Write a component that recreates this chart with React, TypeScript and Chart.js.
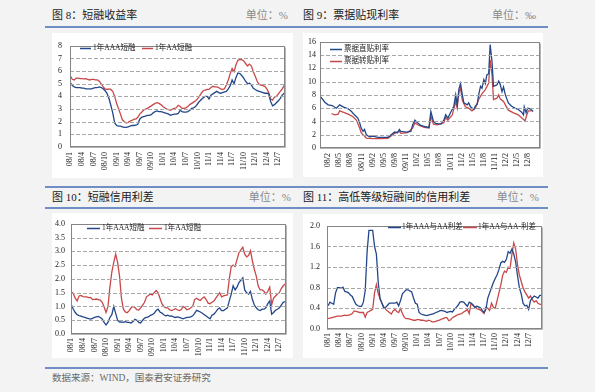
import React, { useEffect, useRef } from "react";
import { Chart, registerables } from "chart.js";

Chart.register(...registerables);

const FONT = '"Liberation Serif", "Noto Sans CJK SC", serif';

// ---------- shared tick labels (month index 0 = 2008/01) ----------
const TICK_MONTHS_A = [0, 3, 6, 9, 12, 15, 18, 21, 24, 27, 30, 33, 36, 39, 42, 45, 48, 51, 54];
const TICK_LABELS_A = ["08/1", "08/4", "08/7", "08/10", "09/1", "09/4", "09/7", "09/10", "10/1", "10/4", "10/7", "10/10", "11/1", "11/4", "11/7", "11/10", "12/1", "12/4", "12/7"];
const TICK_MONTHS_B = [1, 4, 7, 10, 13, 16, 19, 22, 25, 28, 31, 34, 37, 40, 43, 46, 49, 52, 55];
const TICK_LABELS_B = ["08/2", "08/5", "08/8", "08/11", "09/2", "09/5", "09/8", "09/11", "10/2", "10/5", "10/8", "10/11", "11/2", "11/5", "11/8", "11/11", "12/2", "12/5", "12/8"];

// half-month sampling, starting 2008/01
const HALF_MONTH = 0.5;

// ---------- 图8 短融收益率 ----------
const C8_AAA = [
  5.1, 4.85, 4.75, 4.7, 4.7, 4.7, 4.65, 4.65, 4.6, 4.6, 4.6, 4.6,
  4.65, 4.7, 4.7, 4.75, 4.7, 4.6, 4.45, 4.25, 3.85, 3.3, 2.7, 1.9,
  1.7, 1.65, 1.65, 1.6, 1.55, 1.55, 1.6, 1.65, 1.7, 1.7, 1.72, 1.8,
  2.2, 2.35, 2.4, 2.45, 2.5, 2.5, 2.55, 2.7, 2.8, 2.85, 2.8, 2.8,
  2.75, 2.7, 2.65, 2.6, 2.5, 2.55, 2.6, 2.6, 2.65, 2.9, 2.8, 2.75,
  2.75, 2.8, 2.9, 3.05, 3.1, 3.2, 3.4, 3.6, 3.75, 3.9, 4.0, 4.0,
  3.8, 4.1, 4.2, 4.3, 4.4, 4.3, 4.25, 4.3, 4.35, 4.4, 4.6, 4.85,
  5.3, 5.0, 5.5, 5.85, 5.8, 5.65, 5.45, 5.2, 5.0, 5.05, 4.9, 4.65,
  4.55, 4.45, 4.4, 4.35, 4.3, 4.25, 4.25, 4.2, 3.6, 3.25, 3.35, 3.5,
  3.65, 3.85, 4.1, 4.25,
];
const C8_AA = [
  5.6, 5.35, 5.3, 5.45, 5.45, 5.4, 5.4, 5.38, 5.4, 5.35, 5.3, 5.35,
  5.35, 5.3, 5.3, 5.2, 5.0, 4.75, 4.6, 4.55, 4.6, 4.55, 4.4, 4.0,
  3.45, 3.05, 2.6, 2.15, 2.0, 1.9, 1.95, 2.05, 2.1, 2.2, 2.2, 2.35,
  2.6, 2.75, 2.9, 3.0, 3.05, 3.15, 3.25, 3.35, 3.45, 3.5, 3.45, 3.35,
  3.2, 3.1, 3.0, 2.95, 2.9, 3.0, 3.05, 3.1, 3.3, 3.2, 3.05, 3.05,
  3.1, 3.2, 3.35, 3.45, 3.55, 3.65, 3.8, 4.0, 4.25, 4.45, 4.5, 4.55,
  4.55, 4.7, 4.8, 4.75, 4.75, 4.7, 4.6, 4.55, 4.6, 4.9, 5.3, 5.8,
  6.2, 5.95, 6.5, 6.85, 6.9, 6.9, 6.8, 6.6, 6.4, 6.55, 6.4, 5.95,
  5.6, 5.2, 4.95, 4.9, 4.85, 4.8, 4.6, 4.3, 3.8, 3.7, 3.95, 4.0,
  4.2, 4.4, 4.6, 4.85,
];

// ---------- 图9 票据贴现利率 (month index, value) ----------
const C9_DIRECT_M = [
  -1.0, 0.1, 1.0, 2.1, 3.2, 4.1, 5.0, 6.4, 7.3, 8.1, 9.0, 9.5, 9.9, 10.4, 10.8, 11.3, 12.2, 13.1, 14.4, 15.7,
  17.1, 18.0, 18.9, 19.7, 20.2, 20.6, 22.0, 23.3, 23.8, 24.4, 25.1, 26.0, 27.3, 28.2, 28.7, 29.4, 30.0, 31.4, 32.2, 32.7,
  33.3, 34.0, 34.9, 35.4, 35.8, 36.3, 36.7, 37.2, 37.6, 38.5, 38.9, 39.4, 40.3, 40.7, 41.2, 41.6, 42.1, 42.5, 43.0, 43.4,
  43.8, 44.3, 44.7, 45.2, 45.6, 46.5, 47.0, 47.4, 47.9, 48.3, 48.8, 49.6, 50.5, 51.4, 52.3, 53.2, 53.7, 53.9, 54.4, 54.8,
  55.5, 56.3,
];
const C9_DIRECT_V = [
  7.7, 6.9, 6.5, 6.4, 6.0, 6.5, 6.2, 5.9, 5.5, 5.0, 4.5, 3.8, 3.0, 2.5, 2.8, 2.0, 1.7, 1.8, 1.6, 1.6,
  1.6, 2.0, 2.4, 2.3, 2.8, 2.5, 2.4, 2.5, 3.5, 4.2, 3.8, 3.4, 3.2, 3.1, 5.5, 4.0, 3.7, 3.6, 4.2, 5.0,
  4.5, 5.3, 6.3, 8.0, 6.5, 9.0, 9.7, 8.0, 6.8, 6.5, 6.8, 6.2, 5.8, 6.3, 6.6, 8.0, 9.3, 9.0, 10.3, 9.7,
  11.0, 11.2, 15.6, 13.0, 9.3, 9.5, 10.1, 9.6, 8.5, 9.2, 8.0, 6.8, 6.3, 6.0, 5.8, 5.4, 5.0, 6.2, 5.3, 6.0,
  5.9, 5.5,
];
const C9_REDISC_M = [
  1.9, 2.8, 3.7, 4.1, 5.0, 6.4, 7.7, 8.6, 9.5, 9.9, 10.4, 10.8, 11.3, 13.1, 14.8, 17.1, 18.0, 18.9, 20.2, 20.6,
  22.4, 23.8, 24.4, 25.1, 26.9, 28.2, 28.7, 29.4, 30.5, 32.2, 32.7, 33.3, 34.5, 35.4, 35.8, 36.3, 36.7, 37.2, 38.0, 38.9,
  39.8, 40.7, 41.6, 42.5, 43.4, 44.3, 44.7, 45.2, 45.6, 46.5, 47.0, 47.4, 48.3, 48.8, 49.6, 51.0, 52.3, 53.7, 54.1, 54.6,
  55.0, 55.9,
];
const C9_REDISC_V = [
  5.2, 5.0, 5.1, 5.6, 5.4, 5.1, 4.7, 4.2, 3.0, 2.3, 2.0, 1.8, 1.5, 1.4, 1.4, 1.45, 1.8, 2.2, 2.5, 2.2,
  2.3, 3.0, 3.8, 3.5, 3.1, 3.0, 4.8, 3.6, 3.5, 3.8, 4.6, 4.2, 5.0, 7.0, 6.0, 8.5, 9.0, 7.2, 6.2, 6.0,
  5.6, 6.0, 7.3, 8.2, 8.8, 9.8, 13.3, 11.0, 7.3, 7.5, 8.0, 7.4, 7.0, 6.5, 5.7, 5.3, 5.0, 4.3, 4.1, 5.0,
  5.6, 5.6,
];

// ---------- 图10 短融信用利差 ----------
const C10_AAA = [
  1.06, 0.9, 0.78, 0.7, 0.67, 0.65, 0.62, 0.6, 0.58, 0.56, 0.54, 0.57,
  0.6, 0.62, 0.64, 0.6, 0.55, 0.42, 0.33, 0.42, 0.6, 0.7, 1.0, 0.75,
  0.5, 0.43, 0.44, 0.42, 0.45, 0.42, 0.42, 0.4, 0.45, 0.53, 0.5, 0.42,
  0.4, 0.5, 0.58, 0.6, 0.62, 0.68, 0.7, 0.75, 0.85, 0.9, 0.8, 0.76,
  0.7, 0.66, 0.68, 0.65, 0.66, 0.62, 0.6, 0.62, 0.6, 0.58, 0.55, 0.58,
  0.6, 0.6, 0.62, 0.66, 0.75, 0.86, 0.83, 0.8, 0.75, 0.7, 0.65, 0.6,
  0.55, 0.68, 0.72, 0.8, 0.9, 0.95, 0.85, 0.85, 0.9, 0.95, 1.2, 1.45,
  1.75, 1.6, 1.7, 1.87, 1.95, 2.04, 1.6, 1.5, 1.45, 1.55, 1.25, 1.05,
  0.95, 0.88, 0.85, 0.9, 0.9, 0.95, 1.1, 1.2, 0.72, 0.78, 0.86, 0.9,
  0.95, 1.05, 1.15, 1.18,
];
const C10_AA = [
  1.52, 1.47, 1.3, 1.2, 1.38, 1.4, 1.36, 1.35, 1.35, 1.32, 1.33, 1.25,
  1.26, 1.27, 1.25, 1.23, 1.15, 0.98, 0.78, 1.0, 1.7, 2.25, 2.6, 2.9,
  2.6, 2.1, 1.3, 0.9, 0.8, 0.77, 0.85, 0.95, 1.0, 0.96, 0.88, 0.87,
  0.95, 1.05, 1.15, 1.35, 1.4, 1.45, 1.42, 1.5, 1.58, 1.5, 1.3, 1.1,
  1.0, 0.95, 0.95, 0.88, 0.85, 0.88, 0.92, 0.88, 0.85, 0.88, 1.0, 0.95,
  0.88, 0.9, 0.95, 1.0, 1.25, 1.3, 1.25, 1.22, 1.3, 1.35, 1.25, 1.12,
  1.1, 1.15, 1.2, 1.3, 1.4, 1.5, 1.35, 1.38, 1.4, 1.42, 2.0, 2.45,
  2.5, 2.45, 2.7, 2.95, 3.05, 3.15, 2.9, 2.8, 2.85, 3.02, 2.65, 2.35,
  2.1, 1.75, 1.6, 1.6, 1.55, 1.45, 1.55, 1.7, 1.06, 1.3, 1.38, 1.45,
  1.5, 1.65, 1.75, 1.82,
];

// ---------- 图11 高低等级短融间的信用利差 ----------
const C11_AAA_AA = [
  0.45, 0.52, 0.5, 0.48, 0.7, 0.8, 0.8, 0.79, 0.81, 0.73, 0.72, 0.7,
  0.66, 0.63, 0.55, 0.48, 0.45, 0.44, 0.44, 0.52, 0.75, 1.5, 1.91, 1.91,
  1.91, 1.6, 1.45, 0.9, 0.58, 0.5, 0.4, 0.42, 0.46, 0.5, 0.5, 0.5,
  0.5, 0.52, 0.45, 0.55, 0.68, 0.72, 0.76, 0.76, 0.74, 0.72, 0.6, 0.5,
  0.48, 0.32, 0.29, 0.28, 0.27, 0.26, 0.27, 0.28, 0.29, 0.3, 0.32, 0.33,
  0.35, 0.36, 0.35, 0.34, 0.32, 0.33, 0.34, 0.33, 0.38, 0.42, 0.46, 0.52,
  0.53, 0.52, 0.48, 0.44, 0.52, 0.5, 0.47, 0.42, 0.44, 0.43, 0.41, 0.36,
  0.32, 0.38, 0.6, 0.7, 0.8, 0.9, 0.98, 1.05, 1.15, 1.28, 1.31, 1.29,
  1.35, 1.5, 1.47, 1.55, 1.45, 1.3, 1.04, 0.8, 0.68, 0.5, 0.45, 0.46,
  0.38, 0.55, 0.6, 0.64, 0.62, 0.6, 0.65, 0.65,
];
const C11_AA_AAM = [
  0.2, 0.21, 0.22, 0.23, 0.24, 0.25, 0.25, 0.25, 0.26, 0.27, 0.26, 0.27,
  0.28, 0.3, 0.35, 0.34, 0.33, 0.32, 0.32, 0.32, 0.23, 0.32, 0.34, 0.36,
  0.38, 0.7, 0.86, 0.68, 0.59, 0.5, 0.43, 0.38, 0.35, 0.32, 0.29, 0.35,
  0.38, 0.34, 0.32, 0.4, 0.3, 0.23, 0.2, 0.2, 0.19, 0.18, 0.17, 0.17,
  0.18, 0.18, 0.17, 0.17, 0.16, 0.15, 0.17, 0.16, 0.14, 0.14, 0.15, 0.16,
  0.17, 0.19, 0.2, 0.22, 0.22, 0.16, 0.18, 0.22, 0.24, 0.26, 0.28, 0.29,
  0.3, 0.33, 0.35, 0.38, 0.3, 0.5, 0.46, 0.43, 0.4, 0.38, 0.37, 0.34,
  0.3, 0.42, 0.4, 0.36, 0.5, 0.42, 0.4, 0.55, 0.7, 0.85, 1.04, 1.12,
  1.1, 1.2, 1.18, 1.45, 1.67, 1.55, 1.25, 1.05, 0.92, 0.8, 0.72, 0.66,
  0.6, 0.64, 0.57, 0.52, 0.55, 0.5, 0.48, 0.47,
];

const BLUE = "#23478a";
const RED = "#c8484a";

type Pt = { x: number; y: number };
const fromGrid = (vals: number[]): Pt[] => vals.map((v, i) => ({ x: i * HALF_MONTH, y: v }));
const fromPairs = (ms: number[], vs: number[]): Pt[] => ms.map((m, i) => ({ x: m, y: vs[i] }));

type LegendItem = { label: string; color: string; x1: number; x2: number; tx: number; y: number };

type Props = {
  left: number; top: number; width: number; height: number;
  padTop: number; padRight: number; yWidth: number; xHeight: number;
  yMin: number; yMax: number; yStep: number; yDec: number; yPad: number; xPad: number;
  xMin: number; xMax: number; tickMonths: number[]; tickLabels: string[];
  series: { label: string; color: string; data: Pt[] }[];
  legend: LegendItem[];
};

function LineChart(p: Props) {
  const ref = useRef<HTMLCanvasElement>(null);
  useEffect(() => {
    if (!ref.current) return;
    // dashed gridlines at the y scale's ticks, the plot frame and the line legend
    const decorPlugin = {
      id: "plotDecor",
      afterDraw(chart: any) {
        const { ctx, chartArea: a } = chart;
        const ys = chart.scales.y;
        ctx.save();
        ctx.strokeStyle = "#a8a8a8";
        ctx.lineWidth = 1;
        ctx.setLineDash([4, 2]);
        for (const t of ys.ticks) {
          const py = Math.round(ys.getPixelForValue(t.value)) + 0.5;
          ctx.beginPath();
          ctx.moveTo(a.left, py);
          ctx.lineTo(a.right, py);
          ctx.stroke();
        }
        ctx.setLineDash([]);
        ctx.strokeStyle = "#858585";
        const l = Math.round(a.left) + 0.5, tp = Math.round(a.top) + 0.5;
        const r = Math.round(a.right) - 0.5, b = Math.round(a.bottom) - 0.5;
        ctx.strokeRect(l, tp, r - l, b - tp);
        ctx.strokeStyle = "#b5b5b5";
        ctx.beginPath();
        ctx.moveTo(r + 1, tp + 1);
        ctx.lineTo(r + 1, b + 1);
        ctx.lineTo(l + 1, b + 1);
        ctx.stroke();

        ctx.font = `7.5px ${FONT}`;
        ctx.textBaseline = "middle";
        for (const it of p.legend) {
          ctx.strokeStyle = it.color;
          ctx.lineWidth = 1.5;
          ctx.beginPath();
          ctx.moveTo(it.x1, it.y + 0.5);
          ctx.lineTo(it.x2, it.y + 0.5);
          ctx.stroke();
          ctx.fillStyle = "#222";
          ctx.fillText(it.label, it.tx, it.y + 0.5);
        }
        ctx.restore();
      },
    };
    const chart = new Chart(ref.current, {
      type: "line",
      data: {
        datasets: p.series.map((s) => ({
          label: s.label,
          data: s.data,
          borderColor: s.color,
          borderWidth: 1.3,
          pointRadius: 0,
        })),
      },
      options: {
        animation: false,
        responsive: false,
        maintainAspectRatio: false,
        devicePixelRatio: 1,
        layout: { padding: { top: p.padTop, right: p.padRight } },
        plugins: { legend: { display: false }, tooltip: { enabled: false } },
        scales: {
          x: {
            type: "linear",
            min: p.xMin,
            max: p.xMax,
            grid: { display: false, drawTicks: false },
            border: { display: false },
            ticks: {
              autoSkip: false,
              maxRotation: 90,
              minRotation: 90,
              padding: p.xPad,
              color: "#222",
              font: { family: FONT, size: 8 },
              callback: (v: any) => {
                const i = p.tickMonths.indexOf(Number(v));
                return i >= 0 ? p.tickLabels[i] : "";
              },
            },
            afterBuildTicks: (s: any) => {
              s.ticks = p.tickMonths.map((v) => ({ value: v }));
            },
            afterFit: (s: any) => {
              s.height = p.xHeight;
            },
          },
          y: {
            min: p.yMin,
            max: p.yMax,
            grid: { display: false, drawTicks: false },
            border: { display: false },
            ticks: {
              stepSize: p.yStep,
              padding: p.yPad,
              color: "#222",
              font: { family: FONT, size: 8 },
              callback: (v: any) => Number(v).toFixed(p.yDec),
            },
            afterFit: (s: any) => {
              s.width = p.yWidth;
            },
          },
        },
      } as any,
      plugins: [decorPlugin],
    });
    return () => chart.destroy();
  }, []);
  return (
    <canvas
      ref={ref}
      width={p.width}
      height={p.height}
      style={{ position: "absolute", left: p.left, top: p.top, background: "#fff" }}
    />
  );
}

const rule = (left: number, top: number, width: number) => (
  <div style={{ position: "absolute", left, top, width, height: 2, background: "#6f8ec6" }} />
);

const titleStyle = (left: number, top: number): React.CSSProperties => ({
  position: "absolute", left, top, fontSize: 11, lineHeight: "14px", color: "#1a1a1a", fontFamily: FONT, whiteSpace: "nowrap",
});
const unitStyle = (right: number, top: number): React.CSSProperties => ({
  position: "absolute", right: 595 - right, top, fontSize: 11, lineHeight: "14px", color: "#8a8a8a", fontFamily: FONT, whiteSpace: "nowrap",
});

export default function App() {
  return (
    <div style={{ position: "fixed", left: 0, top: 0, width: 595, height: 392, background: "#f3f3f3", overflow: "hidden", fontFamily: FONT }}>
      <div style={titleStyle(52, 8)}>图 8：短融收益率</div>
      <div style={unitStyle(288, 8)}>单位：%</div>
      <div style={titleStyle(303, 8)}>图 9：票据贴现利率</div>
      <div style={unitStyle(536, 8)}>单位：‰</div>
      {rule(45, 26, 252)}
      {rule(297, 26, 251)}

      <LineChart
        left={52} top={33} width={241} height={145}
        padTop={5} padRight={2} yWidth={18} xHeight={31}
        yMin={0} yMax={8} yStep={1} yDec={0} yPad={8} xPad={5}
        xMin={-0.1} xMax={55.6} tickMonths={TICK_MONTHS_A} tickLabels={TICK_LABELS_A}
        series={[
          { label: "1年AAA短融", color: BLUE, data: fromGrid(C8_AAA) },
          { label: "1年AA短融", color: RED, data: fromGrid(C8_AA) },
        ]}
        legend={[
          { label: "1年AAA短融", color: BLUE, x1: 28, x2: 39, tx: 41, y: 15 },
          { label: "1年AA短融", color: RED, x1: 90, x2: 101, tx: 103, y: 15 },
        ]}
      />
      <LineChart
        left={303} top={33} width={240} height={144}
        padTop={6} padRight={1} yWidth={17} xHeight={29}
        yMin={0} yMax={16} yStep={2} yDec={0} yPad={4} xPad={5}
        xMin={-1.2} xMax={58.1} tickMonths={TICK_MONTHS_B} tickLabels={TICK_LABELS_B}
        series={[
          { label: "票据直贴利率", color: BLUE, data: fromPairs(C9_DIRECT_M, C9_DIRECT_V) },
          { label: "票据转贴利率", color: RED, data: fromPairs(C9_REDISC_M, C9_REDISC_V) },
        ]}
        legend={[
          { label: "票据直贴利率", color: BLUE, x1: 27, x2: 39, tx: 41, y: 16 },
          { label: "票据转贴利率", color: RED, x1: 27, x2: 39, tx: 41, y: 28 },
        ]}
      />

      {rule(45, 186, 253)}
      {rule(295, 186, 253)}
      <div style={titleStyle(52, 190)}>图 10：短融信用利差</div>
      <div style={unitStyle(291, 190)}>单位：%</div>
      <div style={titleStyle(303, 190)}>图 11：高低等级短融间的信用利差</div>
      <div style={unitStyle(539, 190)}>单位：%</div>
      {rule(45, 207, 253)}
      {rule(295, 207, 253)}

      <LineChart
        left={52} top={213} width={241} height={145}
        padTop={5} padRight={1} yWidth={19} xHeight={24}
        yMin={0} yMax={4} yStep={0.5} yDec={1} yPad={6} xPad={4}
        xMin={-0.1} xMax={55.6} tickMonths={TICK_MONTHS_A} tickLabels={TICK_LABELS_A}
        series={[
          { label: "1年AAA短融", color: BLUE, data: fromGrid(C10_AAA) },
          { label: "1年AA短融", color: RED, data: fromGrid(C10_AA) },
        ]}
        legend={[
          { label: "1年AAA短融", color: BLUE, x1: 35, x2: 48, tx: 50, y: 15 },
          { label: "1年AA短融", color: RED, x1: 97, x2: 110, tx: 112, y: 15 },
        ]}
      />
      <LineChart
        left={303} top={214} width={240} height={144}
        padTop={4} padRight={1} yWidth={24} xHeight={29}
        yMin={0} yMax={2} yStep={0.2} yDec={1} yPad={7} xPad={4}
        xMin={-0.3} xMax={57.6} tickMonths={TICK_MONTHS_A} tickLabels={TICK_LABELS_A}
        series={[
          { label: "1年AAA与AA利差", color: BLUE, data: fromGrid(C11_AAA_AA) },
          { label: "1年AA与AA-利差", color: RED, data: fromGrid(C11_AA_AAM) },
        ]}
        legend={[
          { label: "1年AAA与AA利差", color: BLUE, x1: 85, x2: 98, tx: 99, y: 13 },
          { label: "1年AA与AA-利差", color: RED, x1: 160, x2: 174, tx: 175, y: 13 },
        ]}
      />

      {rule(45, 367, 253)}
      {rule(295, 367, 253)}
      <div style={{ position: "absolute", left: 52, top: 371, fontSize: 9.5, lineHeight: "14px", color: "#6a6a6a", fontFamily: FONT, whiteSpace: "nowrap" }}>
        数据来源：WIND，国泰君安证券研究
      </div>
    </div>
  );
}
